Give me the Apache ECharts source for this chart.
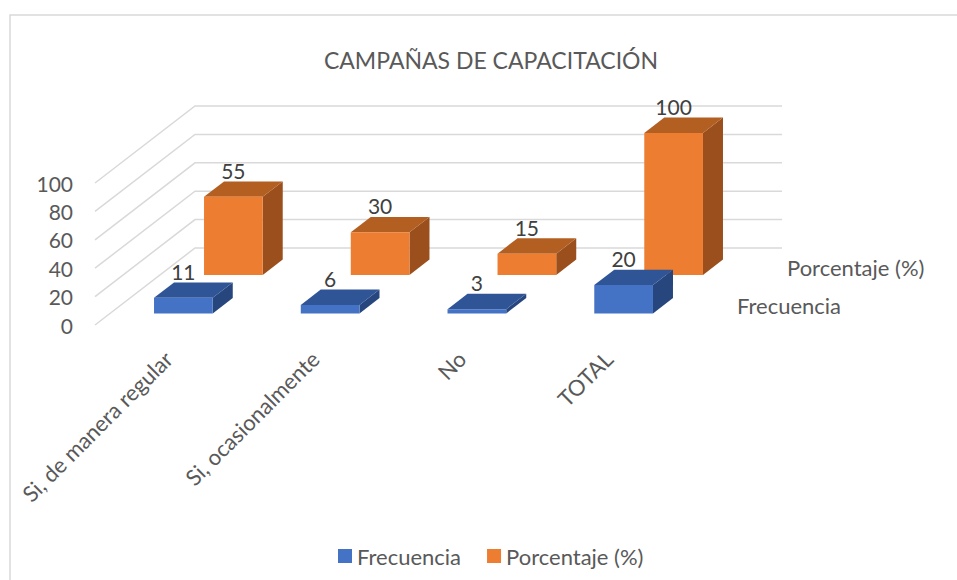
<!DOCTYPE html>
<html>
<head>
<meta charset="utf-8">
<script src="https://cdn.jsdelivr.net/npm/echarts@6/dist/echarts.min.js"></script>
<style>
  html, body { margin: 0; padding: 0; background: #fff; }
  #chartBox { width: 957px; height: 580px; }
</style>
</head>
<body>
<div id="chartBox"></div>
<script>
// datos
const categories = ['Si, de manera regular', 'Si, ocasionalmente', 'No', 'TOTAL'];
const frecuencia = [11, 6, 3, 20];
const porcentaje = [55, 30, 15, 100];
const yTicks = [0, 20, 40, 60, 80, 100];

// pseudo 3D: profundidad total del piso en px
const DEPTH_X = 100;
const DEPTH_Y = -77;
const BAR_W = 0.4;
const FONT = 'Lato';
const TXT = '#595959';

// barras con cara frontal, superior y lateral
function barRenderer (row, colors) {
  return function (params, api) {
    const i = params.dataIndex;
    const v = api.value(1);
    const base = api.coord([api.value(0), 0]);
    const top = api.coord([api.value(0), v]);
    const bw = api.size([1, 0])[0];
    const f0 = (row + 0.3) / 2;
    const f1 = (row + 0.7) / 2;
    const ox = f0 * DEPTH_X;
    const oy = f0 * DEPTH_Y;
    const dx = (f1 - f0) * DEPTH_X;
    const dy = (f1 - f0) * DEPTH_Y;
    const x0 = base[0] - bw * BAR_W / 2 + ox;
    const x1 = base[0] + bw * BAR_W / 2 + ox;
    const yb = base[1] + oy;
    const yt = top[1] + oy;
    const children = [
      { type: 'polygon', shape: { points: [[x1, yt], [x1 + dx, yt + dy], [x1 + dx, yb + dy], [x1, yb]] }, style: { fill: colors[2] } },
      { type: 'polygon', shape: { points: [[x0, yt], [x1, yt], [x1 + dx, yt + dy], [x0 + dx, yt + dy]] }, style: { fill: colors[1] } },
      { type: 'rect', shape: { x: x0, y: yt, width: x1 - x0, height: yb - yt }, style: { fill: colors[0] } },
      {
        type: 'text',
        style: {
          text: String(v), x: (x0 + x1) / 2, y: yt + dy - 11,
          align: 'center', verticalAlign: 'middle',
          fill: '#404040', font: '21px ' + FONT
        }
      }
    ];
    // nombre de la serie en el eje de profundidad
    if (i === categories.length - 1) {
      const fm = (row + 0.5) / 2;
      children.push({
        type: 'text',
        style: {
          text: params.seriesName,
          x: base[0] + bw / 2 + fm * DEPTH_X + 30,
          y: base[1] + fm * DEPTH_Y,
          align: 'left', verticalAlign: 'middle',
          fill: TXT, font: '22px ' + FONT
        }
      });
    }
    return { type: 'group', children: children };
  };
}

// paredes: lineas de division lateral y del fondo
function wallRenderer (params, api) {
  const p = api.coord([categories[0], api.value(1)]);
  const bw = api.size([1, 0])[0];
  const fx = p[0] - bw / 2;
  return {
    type: 'polyline',
    shape: { points: [[fx, p[1]], [fx + DEPTH_X, p[1] + DEPTH_Y], [fx + DEPTH_X + bw * categories.length, p[1] + DEPTH_Y]] },
    style: { stroke: '#d9d9d9', lineWidth: 1.5, fill: null }
  };
}

const chart = echarts.init(document.getElementById('chartBox'), null, { renderer: 'svg' });

const option = {
  backgroundColor: '#fff',
  animation: false,
  color: ['#4472C4', '#ED7D31'],
  title: {
    text: 'CAMPAÑAS DE CAPACITACIÓN',
    left: 486,
    textAlign: 'center',
    top: 43,
    textStyle: { fontFamily: FONT, fontSize: 23, fontWeight: 'normal', color: TXT }
  },
  legend: {
    data: ['Frecuencia', 'Porcentaje (%)'],
    top: 540,
    left: 333,
    icon: 'rect',
    itemWidth: 14,
    itemHeight: 14,
    itemGap: 26,
    textStyle: { fontFamily: FONT, fontSize: 22, color: TXT }
  },
  graphic: [{
    type: 'rect',
    z: -10,
    shape: { x: 10, y: 15, width: 1000, height: 700 },
    style: { fill: 'none', stroke: '#d9d9d9', lineWidth: 1.5 }
  }],
  grid: { left: 95, top: 183, width: 587, height: 142 },
  xAxis: {
    type: 'category', data: categories,
    axisLine: { show: false }, axisTick: { show: false },
    axisLabel: { rotate: 45, margin: 30, interval: 0, fontFamily: FONT, fontSize: 22, color: TXT }
  },
  yAxis: {
    type: 'value', min: 0, max: 100, interval: 20,
    axisLine: { show: false }, axisTick: { show: false }, splitLine: { show: false },
    axisLabel: { margin: 22, fontFamily: FONT, fontSize: 21, color: TXT }
  },
  series: [
    {
      type: 'custom', name: 'walls', clip: false, silent: true,
      renderItem: wallRenderer,
      data: yTicks.map(v => [categories[0], v])
    },
    {
      type: 'custom', name: 'Porcentaje (%)', clip: false,
      itemStyle: { color: '#ED7D31' },
      renderItem: barRenderer(1, ['#ED7D31', '#B45F22', '#9A4F1C']),
      data: porcentaje.map((v, i) => [categories[i], v])
    },
    {
      type: 'custom', name: 'Frecuencia', clip: false,
      itemStyle: { color: '#4472C4' },
      renderItem: barRenderer(0, ['#4472C4', '#2F5597', '#27467D']),
      data: frecuencia.map((v, i) => [categories[i], v])
    }
  ]
};

chart.setOption(option);
</script>
</body>
</html>
